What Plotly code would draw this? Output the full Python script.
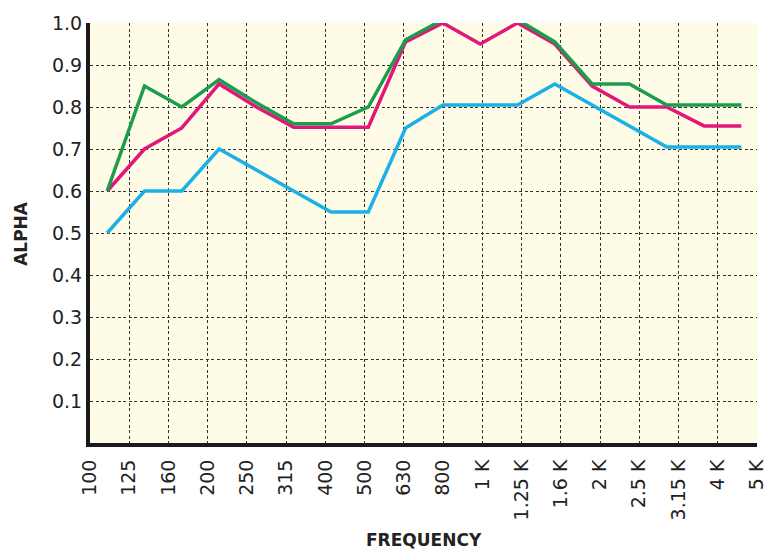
import plotly.graph_objects as go

freq_labels = ["100", "125", "160", "200", "250", "315", "400", "500", "630",
               "800", "1 K", "1.25 K", "1.6 K", "2 K", "2.5 K", "3.15 K", "4 K", "5 K"]

series_green = [0.60, 0.85, 0.80, 0.865, 0.81, 0.76, 0.76, 0.80, 0.96,
                1.008, 1.008, 1.008, 0.955, 0.855, 0.855, 0.805, 0.805, 0.805]
series_pink = [0.60, 0.70, 0.75, 0.855, 0.80, 0.752, 0.752, 0.752, 0.955,
               1.0, 0.95, 1.0, 0.95, 0.85, 0.80, 0.80, 0.755, 0.755]
series_blue = [0.50, 0.60, 0.60, 0.70, 0.65, 0.60, 0.55, 0.55, 0.75,
               0.805, 0.805, 0.805, 0.855, 0.805, 0.755, 0.705, 0.705, 0.705]

y_ticks = [0.1, 0.2, 0.3, 0.4, 0.5, 0.6, 0.7, 0.8, 0.9, 1.0]
y_ticktext = ["0.1", "0.2", "0.3", "0.4", "0.5", "0.6", "0.7", "0.8", "0.9", "1.0"]

colors = {"green": "#1a9e4c", "pink": "#e3177b", "blue": "#1bb0e6"}

tick_positions = list(range(len(freq_labels)))

fig = go.Figure()
# invisible anchor trace so the tick/grid axis (x) is drawn
fig.add_trace(go.Scatter(
    x=tick_positions, y=[0] * len(tick_positions), mode="markers",
    marker=dict(opacity=0), showlegend=False, hoverinfo="skip"))

for vals, col in [(series_blue, colors["blue"]), (series_pink, colors["pink"]),
                  (series_green, colors["green"])]:
    fig.add_trace(go.Scatter(
        x=freq_labels, y=vals, xaxis="x2", mode="lines",
        line=dict(color=col, width=3.5), cliponaxis=False,
        showlegend=False, hoverinfo="skip"))

tick_font = dict(family="DejaVu Sans", size=19, color="#222222")
grid_style = dict(showgrid=True, gridcolor="#333333", gridwidth=1, griddash="3px,2.5px")

fig.update_layout(
    width=779, height=551,
    margin=dict(l=90, r=14, t=20, b=108),
    paper_bgcolor="white",
    plot_bgcolor="#fefbe6",
    xaxis=dict(
        range=[0, len(freq_labels) - 1],
        tickmode="array",
        tickvals=tick_positions,
        ticktext=freq_labels,
        tickangle=-90,
        tickfont=tick_font,
        ticklabelstandoff=5,
        showline=True, linecolor="#1a1a1a", linewidth=4,
        zeroline=False, ticks="", ticklen=0,
        **grid_style,
    ),
    xaxis2=dict(
        type="category", overlaying="x", visible=False,
        categoryorder="array", categoryarray=freq_labels,
        range=[-0.461, len(freq_labels) - 1 + 0.42],
    ),
    yaxis=dict(
        range=[0, 1.0],
        tickmode="array", tickvals=y_ticks, ticktext=y_ticktext,
        tickfont=tick_font,
        showline=True, linecolor="#1a1a1a", linewidth=4,
        zeroline=False, ticks="", ticklen=0,
        **grid_style,
    ),
    annotations=[
        dict(text="<b>ALPHA</b>", xref="paper", yref="paper",
             x=-0.1037, y=0.5, xanchor="center", yanchor="middle",
             textangle=-90, showarrow=False,
             font=dict(family="DejaVu Sans", size=17, color="#222222")),
        dict(text="<b>FREQUENCY</b>", xref="paper", yref="paper",
             x=0.5, y=-0.232, xanchor="center", yanchor="middle",
             showarrow=False,
             font=dict(family="DejaVu Sans", size=17, color="#222222")),
    ],
)

fig.write_html("out.html", config={"displayModeBar": False},
               post_script="document.body.style.margin='0';")
